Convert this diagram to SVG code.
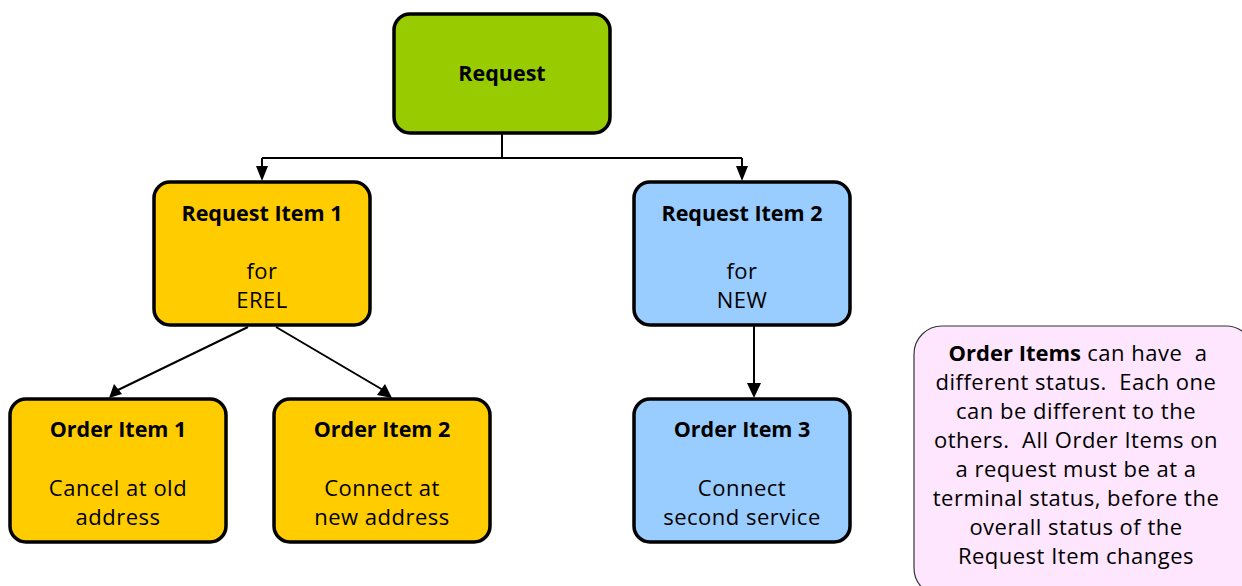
<svg xmlns="http://www.w3.org/2000/svg" width="1242" height="586" viewBox="0 0 1242 586">
<style>
.box{stroke:#000;stroke-width:3.5}
.g{fill:#99cc00}.y{fill:#ffcc00}.b{fill:#99ccff}
text{font-family:"Open Sans","Noto Sans",sans-serif;font-size:22px;letter-spacing:0.5px;fill:#000;text-anchor:middle;white-space:pre}
.t{font-weight:bold;font-size:21.5px;letter-spacing:0}
.c{stroke:#000;stroke-width:2;fill:none}
</style>
<rect width="1242" height="586" fill="#fff"/>
<g id="connectors">
<path class="c" d="M502,133 V158 M262,158 H742 M262,158 V168 M742,158 V168"/>
<path d="M256,166 L268,166 L262,181 z" fill="#000"/>
<path d="M736,166 L748,166 L742,181 z" fill="#000"/>
<path class="c" d="M248,327 L118,390"/>
<path d="M109,398 L114,384 L122,394 z" fill="#000"/>
<path class="c" d="M276,327 L383,390"/>
<path d="M392,398 L377,395 L385,384 z" fill="#000"/>
<path class="c" d="M754,325 V386"/>
<path d="M747,383 L761,383 L754,398 z" fill="#000"/>
</g>
<g id="request">
<rect class="box g" x="394" y="14" width="216" height="119" rx="16"/>
<text class="t" x="502" y="81">Request</text>
</g>
<g id="request-item-1">
<rect class="box y" x="154" y="182" width="216" height="143" rx="16"/>
<text class="t" x="262" y="221">Request Item 1</text>
<text x="262" y="279">for</text>
<text x="262" y="308">EREL</text>
</g>
<g id="request-item-2">
<rect class="box b" x="634" y="182" width="216" height="143" rx="16"/>
<text class="t" x="742" y="221">Request Item 2</text>
<text x="742" y="279">for</text>
<text x="742" y="308">NEW</text>
</g>
<g id="order-item-1">
<rect class="box y" x="10" y="399" width="216" height="143" rx="16"/>
<text class="t" x="118" y="437">Order Item 1</text>
<text x="118" y="496">Cancel at old</text>
<text x="118" y="525">address</text>
</g>
<g id="order-item-2">
<rect class="box y" x="274" y="399" width="216" height="143" rx="16"/>
<text class="t" x="382" y="437">Order Item 2</text>
<text x="382" y="496">Connect at</text>
<text x="382" y="525">new address</text>
</g>
<g id="order-item-3">
<rect class="box b" x="634" y="399" width="216" height="143" rx="16"/>
<text class="t" x="742" y="437">Order Item 3</text>
<text x="742" y="496">Connect</text>
<text x="742" y="525">second service</text>
</g>
<g id="note">
<rect x="914" y="326" width="340" height="270" rx="28" fill="#ffe6ff" stroke="#333" stroke-width="1.2"/>
<text x="1078" y="361" xml:space="preserve"><tspan class="t" style="font-size:22px">Order Items</tspan> can have  a</text>
<text x="1076" y="390" xml:space="preserve">different status.  Each one</text>
<text x="1076" y="419">can be different to the</text>
<text x="1076" y="448" xml:space="preserve">others.  All Order Items on</text>
<text x="1076" y="477">a request must be at a</text>
<text x="1076" y="506">terminal status, before the</text>
<text x="1076" y="535">overall status of the</text>
<text x="1076" y="564">Request Item changes</text>
</g>
</svg>
